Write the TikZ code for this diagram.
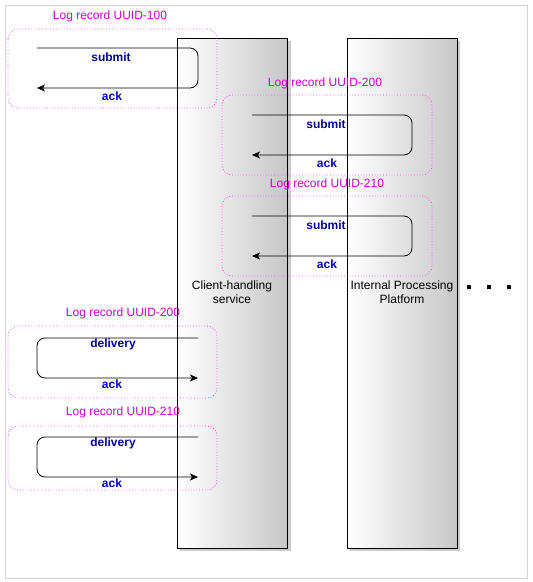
\documentclass[tikz,border=0pt]{standalone}
\usepackage{fontspec}
\setmainfont{Liberation Sans}
\usetikzlibrary{arrows.meta}
\definecolor{grp}{HTML}{FF44FF}
\definecolor{grptext}{HTML}{CC00CC}
\definecolor{msgtop}{HTML}{000099}
\definecolor{msgack}{HTML}{0000CC}
\definecolor{frame}{HTML}{D4D4D4}
\tikzset{
  lane/.style={draw=black, line width=0.8pt, left color=white, right color=black!22, shading angle=90,
    minimum width=110pt, minimum height=510pt, inner sep=0pt},
  lanetext/.style={font=\fontsize{12}{14}\selectfont, align=center, text=black, inner sep=0pt},
  grpbox/.style={draw=grp, dotted, line width=0.8pt, rounded corners=10pt},
  grplabel/.style={font=\fontsize{12}{14}\selectfont, text=grptext, inner sep=0pt},
  msglabel/.style={font=\fontsize{12}{14}\selectfont\bfseries, text=msgtop, inner sep=0pt},
  acklabel/.style={font=\fontsize{12}{14}\selectfont\bfseries, text=msgack, inner sep=0pt},
  msg/.style={draw=black, line width=0.8pt, rounded corners=8pt, -{Stealth[length=8pt,width=7pt,inset=2pt]}},
  dotsq/.style={fill=black, minimum size=4pt, inner sep=0pt},
}
\begin{document}
\begin{tikzpicture}[x=1pt,y=-1pt]
\useasboundingbox (0,0) rectangle (533,582);
\draw[frame, line width=0.8pt] (5,5) rectangle (527,578);
% shadows
\fill[black!20] (180,41) rectangle (291,551);
\fill[black!20] (350,41) rectangle (460,551);
% lanes
\node[lane, minimum width=110pt] (client) at (232.5,293) {};
\node[lane, minimum width=110pt] (ipp) at (402,293) {};
\node[lanetext] (clientt) at (232,292) {Client-handling\\service};
\node[lanetext] (ippt) at (402,292) {Internal Processing\\Platform};
% dots
\node[dotsq] (d1) at (469,287) {};
\node[dotsq] (d2) at (489,287) {};
\node[dotsq] (d3) at (509,287) {};
% group 1
\draw[grpbox] (8,29) rectangle (217,108);
\node[grplabel] (g1) at (110,16) {Log record UUID-100};
\coordinate (a1s) at (37,48);
\coordinate (a1c1) at (198,48);
\coordinate (a1c2) at (198,88);
\coordinate (a1e) at (37,88);
\draw[msg] (a1s) -- (a1c1) -- (a1c2) -- (a1e);
\node[msglabel] (m1) at (111,57) {submit};
\node[acklabel] (k1) at (112,96) {ack};
% group 2
\draw[grpbox] (222,95) rectangle (432,175);
\node[grplabel] (g2) at (325,83) {Log record UUID-200};
\coordinate (a2s) at (252,115);
\coordinate (a2c1) at (412,115);
\coordinate (a2c2) at (412,155);
\coordinate (a2e) at (252,155);
\draw[msg] (a2s) -- (a2c1) -- (a2c2) -- (a2e);
\node[msglabel] (m2) at (326,124) {submit};
\node[acklabel] (k2) at (327,163) {ack};
% group 3
\draw[grpbox] (222,196) rectangle (432,276);
\node[grplabel] (g3) at (327,184) {Log record UUID-210};
\coordinate (a3s) at (252,216);
\coordinate (a3c1) at (412,216);
\coordinate (a3c2) at (412,256);
\coordinate (a3e) at (252,256);
\draw[msg] (a3s) -- (a3c1) -- (a3c2) -- (a3e);
\node[msglabel] (m3) at (326,225) {submit};
\node[acklabel] (k3) at (327,264) {ack};
% group 4
\draw[grpbox] (8,326) rectangle (217,398);
\node[grplabel] (g4) at (123,313) {Log record UUID-200};
\coordinate (a4s) at (198,338);
\coordinate (a4c1) at (37,338);
\coordinate (a4c2) at (37,378);
\coordinate (a4e) at (198,378);
\draw[msg] (a4s) -- (a4c1) -- (a4c2) -- (a4e);
\node[msglabel] (m4) at (113,344) {delivery};
\node[acklabel] (k4) at (112,384) {ack};
% group 5
\draw[grpbox] (8,426) rectangle (217,490);
\node[grplabel] (g5) at (123,412) {Log record UUID-210};
\coordinate (a5s) at (198,437);
\coordinate (a5c1) at (37,437);
\coordinate (a5c2) at (37,477);
\coordinate (a5e) at (198,477);
\draw[msg] (a5s) -- (a5c1) -- (a5c2) -- (a5e);
\node[msglabel] (m5) at (113,443) {delivery};
\node[acklabel] (k5) at (112,483) {ack};
\end{tikzpicture}
\end{document}
